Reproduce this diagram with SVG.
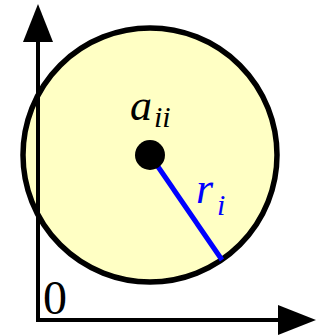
<svg xmlns="http://www.w3.org/2000/svg" width="325" height="336" viewBox="0 0 325 336">
<style>
.ax{stroke:#000;stroke-width:4;fill:none}
.math{font-family:"Liberation Serif","DejaVu Serif",serif;font-style:italic}
</style>
<rect width="325" height="336" fill="#fff"/>
<g id="circle">
<circle cx="150" cy="155" r="127" fill="#FFFFC4" stroke="#000" stroke-width="5.5"/>
</g>
<g id="axes">
<polyline class="ax" points="38,40 38,320 280,320"/>
<polygon points="38,4 23,42 53,42" fill="#000"/>
<polygon points="316,320 278,305 278,335" fill="#000"/>
<text x="43" y="314" font-family="Liberation Serif,serif" font-size="48">0</text>
</g>
<g id="connectors">
<line x1="150" y1="155" x2="222" y2="260" stroke="#00f" stroke-width="5"/>
</g>
<g id="center">
<circle cx="150" cy="155" r="15" fill="#000"/>
<text class="math" x="130" y="120" font-size="44">a</text>
<text class="math" x="154" y="127" font-size="30">ii</text>
</g>
<g id="radius-label">
<text class="math" x="196" y="203" font-size="44" fill="#00f">r</text>
<text class="math" x="217" y="215" font-size="30" fill="#00f">i</text>
</g>
</svg>
